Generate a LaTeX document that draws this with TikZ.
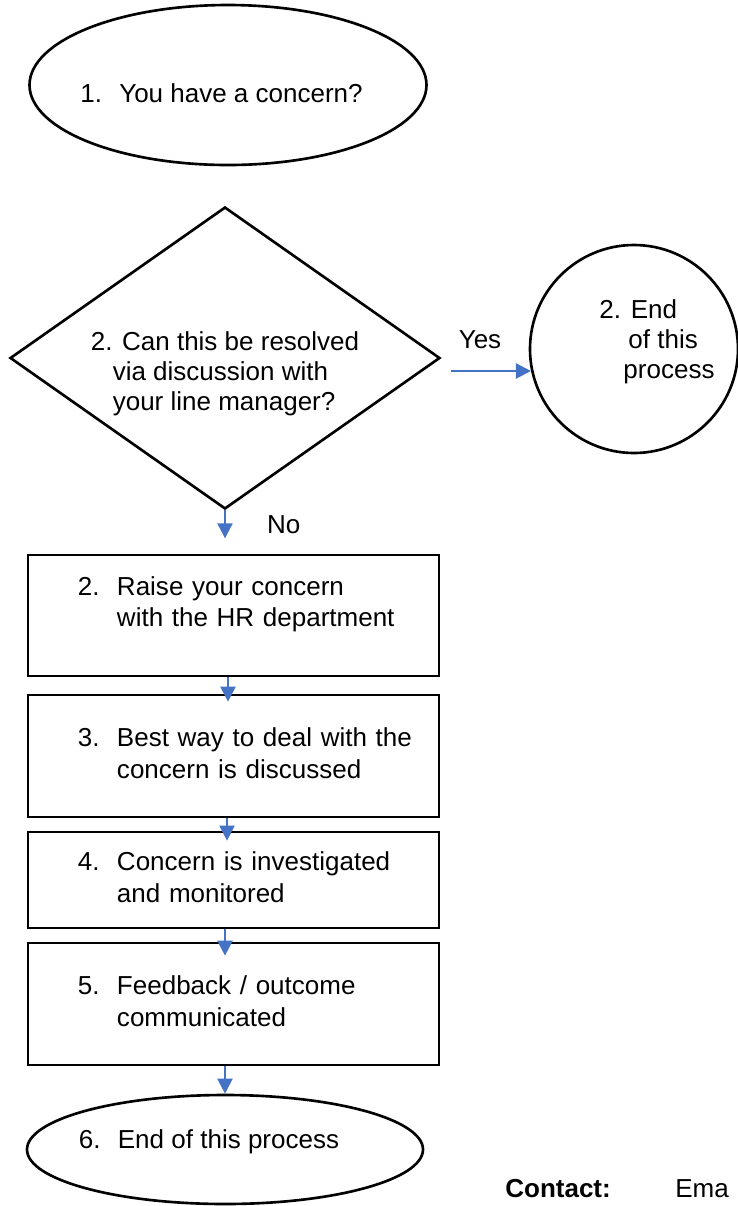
\documentclass[tikz,border=0pt]{standalone}
\usepackage{fontspec}
\setmainfont{Liberation Sans}
\usetikzlibrary{shapes, arrows.meta}
\definecolor{arrowblue}{HTML}{4472C4}
\tikzstyle{startstop} = [ellipse, draw=black, line width=1.5pt, inner sep=-0.3cm, minimum width=7.94cm]
\tikzstyle{decision} = [diamond, aspect=1.42, draw=black, line width=1.5pt, inner sep=-0.5cm, minimum width=8.6cm, minimum height=6.04cm, align=left]
\tikzstyle{endcircle} = [circle, draw=black, line width=1.5pt, inner sep=0pt, minimum size=4.16cm, align=left]
\tikzstyle{statement} = [rectangle, draw=black, line width=1.5pt, text width=7.22cm, inner xsep=0.5cm, minimum height=2.44cm]
\tikzstyle{edge} = [line width=1.2pt, draw=arrowblue, ->, >={Triangle[width=0.3cm, length=0.3cm]}]
\tikzstyle{answer} = [inner sep=0pt]
\renewcommand{\arraystretch}{1.06}
\newcommand{\numline}[2]{\makebox[0.78cm][l]{#1}#2}
\newcommand{\numbox}[3]{\begin{tabular}{@{\hspace{0.5cm}}p{0.78cm}@{}l@{}}#1 & #2\\ & #3\end{tabular}}

\begin{document}
\begin{tikzpicture}[font=\fontsize{14.8pt}{17pt}\selectfont]

\useasboundingbox (0,0) rectangle (14.76,-24.12);

\node (0) [startstop, minimum height=3.2cm, text height=0.7cm, text depth=0pt] at (4.56,-1.70) {\numline{1.}{You have a concern?}\hspace*{0.26cm}};
\node (1) [decision, node distance=5.46cm, below of=0, xshift=-0.06cm] {\mbox{}\\[0.41cm]2. Can this be resolved\\\hspace*{0.44cm}via discussion with\\\hspace*{0.44cm}your line manager?};
\node (2) [endcircle, node distance=8.18cm, right of=1, yshift=0.18cm] {\hspace*{0.92cm}2. End\\\hspace*{1.5cm}of this\\\hspace*{1.4cm}process\\[-0.21cm]\mbox{}};
\node (3) [statement, node distance=5.15cm, below of=1, xshift=0.17cm, minimum height=2.42cm] {\numbox{2.}{Raise your concern}{with the HR department\rule[-0.63cm]{0pt}{0.63cm}}};
\node (4) [statement, node distance=2.81cm, below of=3] {\numbox{3.}{Best way to deal with the}{concern is discussed}};
\node (5) [statement, node distance=2.48cm, below of=4, minimum height=1.92cm] {\numbox{4.}{Concern is investigated}{and monitored}};
\node (6) [statement, node distance=2.48cm, below of=5] {\numbox{5.}{Feedback / outcome}{communicated}};
\node (7) [startstop, node distance=2.91cm, below of=6, xshift=-0.17cm, minimum width=7.92cm, minimum height=2.18cm, text height=0.37cm, text depth=0.43cm] {\numline{6.}{End of this process}\hspace*{0.64cm}};
\node (8) [anchor=base west, inner sep=0pt, font=\fontsize{14.8pt}{17pt}\selectfont\bfseries] at (10.1,-23.94) {Contact:};
\node (9) [anchor=base west, inner sep=0pt] at (13.5,-23.94) {Ema};

\coordinate (n0) at ([yshift=-0.56cm]1.south);
\coordinate (y0) at ([xshift=0.2cm, yshift=-0.26cm]1.east);

\draw [edge] (1.south) -- node[answer, right=0.82cm]{No} (n0);
\draw [edge] (y0) -- node[answer, pos=0.36, above=0.42cm]{Yes} (y0 -| 2.192);
\draw [edge] ([xshift=-0.11cm]3.south) -- ([xshift=-0.11cm, yshift=-0.16cm]4.north);
\draw [edge] ([xshift=-0.13cm]4.south) -- ([xshift=-0.13cm, yshift=-0.2cm]5.north);
\draw [edge] ([xshift=-0.17cm]5.south) -- ([xshift=-0.17cm, yshift=-0.28cm]6.north);
\draw [edge] ([xshift=-0.17cm]6.south) -- (7.north);

\end{tikzpicture}
\end{document}
